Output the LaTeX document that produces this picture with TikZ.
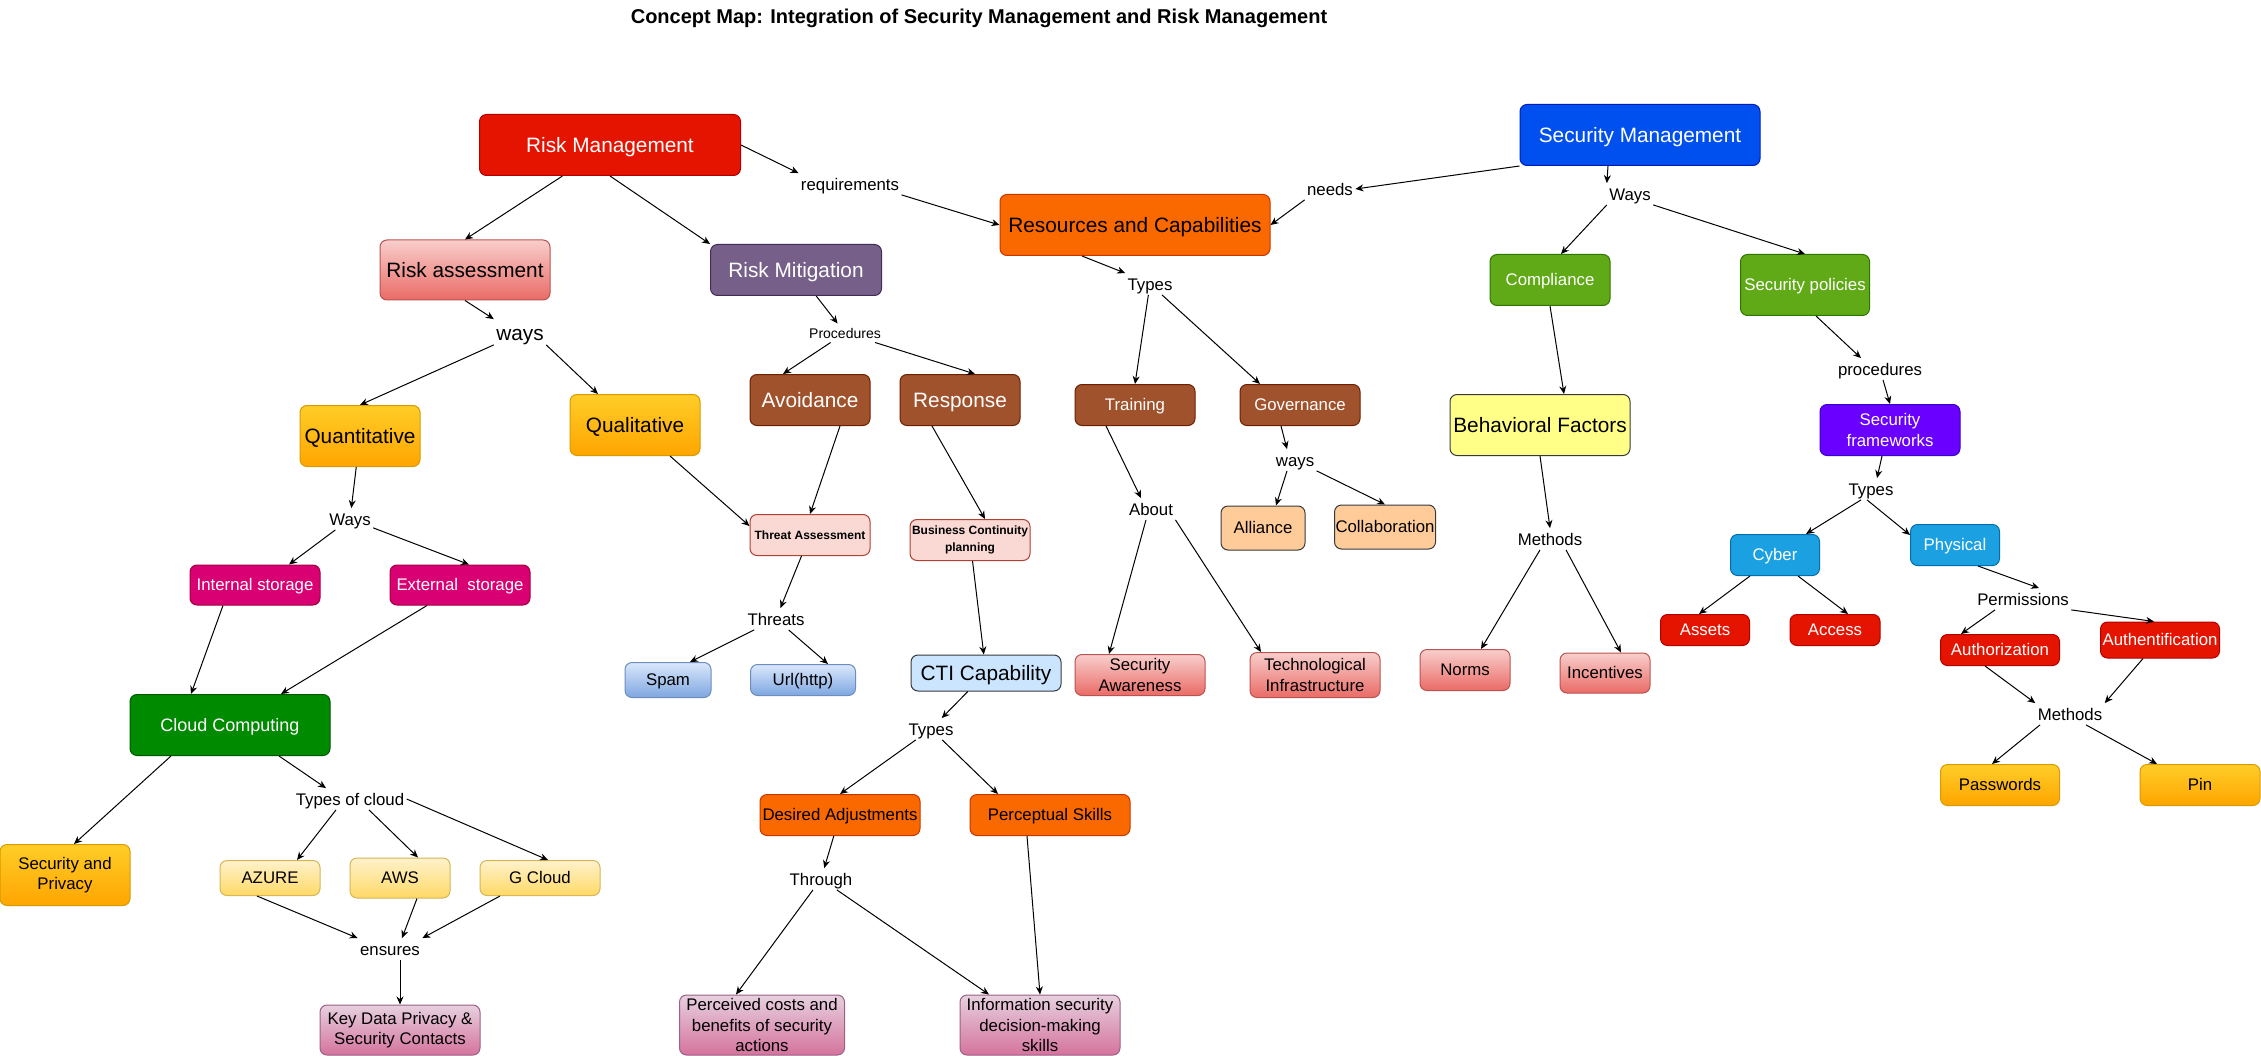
\documentclass[tikz,border=0pt]{standalone}
\usepackage{fontspec}
\setmainfont{Liberation Sans}
\usetikzlibrary{arrows.meta}

\definecolor{cRed}{HTML}{E51400}\definecolor{cRedLine}{HTML}{B20000}
\definecolor{cBlue}{HTML}{0050EF}\definecolor{cBlueLine}{HTML}{001DBC}
\definecolor{cOrange}{HTML}{FA6800}\definecolor{cOrangeLine}{HTML}{C73500}
\definecolor{cPurple}{HTML}{76608A}\definecolor{cPurpleLine}{HTML}{432D57}
\definecolor{cBrown}{HTML}{A0522D}\definecolor{cBrownLine}{HTML}{6D1F00}
\definecolor{cLime}{HTML}{60A917}\definecolor{cLimeLine}{HTML}{2D7600}
\definecolor{cGreen}{HTML}{008A00}\definecolor{cGreenLine}{HTML}{005700}
\definecolor{cMagenta}{HTML}{D80073}\definecolor{cMagentaLine}{HTML}{A50040}
\definecolor{cViolet}{HTML}{6A00FF}\definecolor{cVioletLine}{HTML}{3700CC}
\definecolor{cCyan}{HTML}{1BA1E2}\definecolor{cCyanLine}{HTML}{006EAF}
\definecolor{cPinkTop}{HTML}{F8CECC}\definecolor{cPinkBot}{HTML}{EA6B66}\definecolor{cPinkLine}{HTML}{B85450}
\definecolor{cAmberTop}{HTML}{FFCD28}\definecolor{cAmberBot}{HTML}{FFA500}\definecolor{cAmberLine}{HTML}{D79B00}
\definecolor{cCreamTop}{HTML}{FFF2CC}\definecolor{cCreamBot}{HTML}{FFD966}\definecolor{cCreamLine}{HTML}{D6B656}
\definecolor{cSkyTop}{HTML}{DAE8FC}\definecolor{cSkyBot}{HTML}{7EA6E0}\definecolor{cSkyLine}{HTML}{6C8EBF}
\definecolor{cMauveTop}{HTML}{E6D0DE}\definecolor{cMauveBot}{HTML}{D5739D}\definecolor{cMauveLine}{HTML}{996185}
\definecolor{cSalmon}{HTML}{FAD9D5}\definecolor{cSalmonLine}{HTML}{AE4132}
\definecolor{cIce}{HTML}{CCE5FF}\definecolor{cLemon}{HTML}{FFFF88}\definecolor{cPeach}{HTML}{FFCC99}
\definecolor{cGrayLine}{HTML}{36393D}

\newcommand{\szbig}{\fontsize{20.8}{24}\selectfont}
\newcommand{\szmid}{\fontsize{16.8}{20.5}\selectfont}
\newcommand{\szsmall}{\fontsize{14}{17}\selectfont}
\newcommand{\szbold}{\fontsize{12}{17}\selectfont\bfseries}
\newcommand{\sztitle}{\fontsize{20}{24}\selectfont\bfseries}

\begin{document}
\begin{tikzpicture}[x=1pt, y=-1pt, line width=1pt, >={Stealth[length=8pt,width=7pt]},
    box/.style={draw, rounded corners=7pt, align=center, inner sep=1pt, font=\szmid, text height=15.1pt, text depth=3.4pt},
    big/.style={font=\szbig, text height=18.7pt, text depth=4.2pt},
    multi/.style={text height=, text depth=},
    sz/.style 2 args={minimum width=#1pt, minimum height=#2pt},
    lbl/.style={font=\szmid, inner sep=2pt, text height=15.1pt, text depth=1.7pt},
    redbox/.style={fill=cRed, draw=cRedLine, text=white},
    bluebox/.style={fill=cBlue, draw=cBlueLine, text=white},
    orangebox/.style={fill=cOrange, draw=cOrangeLine},
    purplebox/.style={fill=cPurple, draw=cPurpleLine, text=white},
    brownbox/.style={fill=cBrown, draw=cBrownLine, text=white},
    limebox/.style={fill=cLime, draw=cLimeLine, text=white},
    greenbox/.style={fill=cGreen, draw=cGreenLine, text=white},
    magbox/.style={fill=cMagenta, draw=cMagentaLine, text=white},
    violetbox/.style={fill=cViolet, draw=cVioletLine, text=white},
    cyanbox/.style={fill=cCyan, draw=cCyanLine, text=white},
    salmonbox/.style={fill=cSalmon, draw=cSalmonLine},
    icebox/.style={fill=cIce, draw=cGrayLine},
    lemonbox/.style={fill=cLemon, draw=cGrayLine},
    peachbox/.style={fill=cPeach, draw=cGrayLine},
    pinkgrad/.style={top color=cPinkTop, bottom color=cPinkBot, draw=cPinkLine},
    ambergrad/.style={top color=cAmberTop, bottom color=cAmberBot, draw=cAmberLine},
    creamgrad/.style={top color=cCreamTop, bottom color=cCreamBot, draw=cCreamLine},
    skygrad/.style={top color=cSkyTop, bottom color=cSkyBot, draw=cSkyLine},
    mauvegrad/.style={top color=cMauveTop, bottom color=cMauveBot, draw=cMauveLine}]
    \path[use as bounding box, fill=white] (0,0) rectangle (2261,1056);

    \node[font=\sztitle] (title) at (979,18) {Concept Map: Integration of Security Management and Risk Management};

    \node[box, redbox, big, sz={261}{61}] (rm) at (610,145) {Risk Management};
    \node[box, pinkgrad, big, sz={170}{60}] (ra) at (465,270) {Risk assessment};
    \node[lbl, big, text depth=2.1pt] (ways1) at (520,332) {ways};
    \node[box, ambergrad, big, sz={120}{61}] (quant) at (360,436) {Quantitative};
    \node[box, ambergrad, big, sz={130}{61}] (qual) at (635,425) {Qualitative};
    \node[lbl] (ways2) at (350,519) {Ways};
    \node[box, magbox, sz={130}{40}] (intst) at (255,585) {Internal storage};
    \node[box, magbox, sz={140}{40}] (extst) at (460,585) {External~ storage};
    \node[box, greenbox, font=\fontsize{18}{22}\selectfont, text height=16.2pt, text depth=3.6pt, sz={200}{61}] (cloud) at (230,725) {Cloud Computing};
    \node[box, multi, ambergrad, sz={130}{61}] (secpriv) at (65,875) {Security and\\Privacy};
    \node[lbl] (tcloud) at (350,799) {Types of cloud};
    \node[box, creamgrad, sz={100}{35}] (azure) at (270,878) {AZURE};
    \node[box, creamgrad, sz={100}{40}] (aws) at (400,878) {AWS};
    \node[box, creamgrad, sz={120}{35}] (gcloud) at (540,878) {G Cloud};
    \node[lbl] (ensures) at (390,949) {ensures};
    \node[box, multi, mauvegrad, sz={160}{50}] (keydata) at (400,1030) {Key Data Privacy \&\\Security Contacts};

    \node[box, purplebox, big, sz={171}{51}] (rmit) at (796,270) {Risk Mitigation};
    \node[lbl, font=\szsmall, text height=12.6pt, text depth=1.4pt] (proc) at (845,333) {Procedures};
    \node[box, brownbox, big, sz={120}{51}] (avoid) at (810,400) {Avoidance};
    \node[box, brownbox, big, sz={120}{51}] (resp) at (960,400) {Response};
    \node[box, salmonbox, font=\szbold, text height=10.8pt, text depth=2.4pt, sz={120}{41}] (threat) at (810,535) {Threat Assessment};
    \node[box, multi, salmonbox, font=\szbold, sz={120}{41}] (bcp) at (970,540) {Business Continuity\\planning};
    \node[lbl] (threats) at (776,619) {Threats};
    \node[box, skygrad, sz={86}{35}] (spam) at (668,680) {Spam};
    \node[box, skygrad, sz={105}{31}] (url) at (803,680) {Url(http)};
    \node[box, icebox, big, sz={150}{36}] (cti) at (986,673) {CTI Capability};
    \node[lbl] (types2) at (931,729) {Types};
    \node[box, orangebox, sz={160}{41}] (desired) at (840,815) {Desired Adjustments};
    \node[box, orangebox, sz={160}{41}] (percep) at (1050,815) {Perceptual Skills};
    \node[lbl] (through) at (821,879) {Through};
    \node[box, multi, mauvegrad, sz={165}{60}] (perc) at (762,1025) {Perceived costs and\\benefits of security\\actions};
    \node[box, multi, mauvegrad, sz={160}{60}] (info) at (1040,1025) {Information security\\decision-making\\skills};

    \node[lbl] (req) at (850,184) {requirements};
    \node[box, orangebox, big, sz={270}{61}] (rc) at (1135,225) {Resources and Capabilities};
    \node[lbl] (needs) at (1330,189) {needs};
    \node[lbl] (types1) at (1150,284) {Types};
    \node[box, brownbox, sz={120}{41}] (train) at (1135,405) {Training};
    \node[box, brownbox, sz={120}{41}] (gov) at (1300,405) {Governance};
    \node[lbl] (about) at (1151,509) {About};
    \node[lbl] (ways4) at (1295,460) {ways};
    \node[box, peachbox, sz={84}{44}] (alli) at (1263,528) {Alliance};
    \node[box, peachbox, sz={100}{44}] (collab) at (1385,527) {Collaboration};
    \node[box, multi, pinkgrad, sz={130}{41}] (aware) at (1140,675) {Security\\Awareness};
    \node[box, multi, pinkgrad, sz={130}{45}] (techinf) at (1315,675) {Technological\\Infrastructure};

    \node[box, bluebox, big, sz={240}{61}] (sm) at (1640,135) {Security Management};
    \node[lbl] (ways3) at (1630,194) {Ways};
    \node[box, limebox, sz={120}{51}] (comp) at (1550,280) {Compliance};
    \node[box, limebox, sz={129}{61}] (secpol) at (1805,285) {Security policies};
    \node[box, lemonbox, big, sz={180}{61}] (behav) at (1540,425) {Behavioral Factors};
    \node[lbl] (meth1) at (1550,539) {Methods};
    \node[box, pinkgrad, sz={90}{41}] (norms) at (1465,670) {Norms};
    \node[box, pinkgrad, sz={90}{40}] (incent) at (1605,673) {Incentives};
    \node[lbl] (procs) at (1880,369) {procedures};
    \node[box, multi, violetbox, sz={140}{51}] (sf) at (1890,430) {Security\\frameworks};
    \node[lbl] (types3) at (1871,489) {Types};
    \node[box, cyanbox, sz={89}{41}] (cyber) at (1775,555) {Cyber};
    \node[box, cyanbox, sz={89}{41}] (phys) at (1955,545) {Physical};
    \node[box, redbox, sz={89}{31}] (assets) at (1705,630) {Assets};
    \node[box, redbox, sz={90}{31}] (access) at (1835,630) {Access};
    \node[lbl] (perms) at (2023,599) {Permissions};
    \node[box, redbox, sz={119}{31}] (authz) at (2000,650) {Authorization};
    \node[box, redbox, sz={119}{36}] (authn) at (2160,640) {Authentification};
    \node[lbl] (meth2) at (2070,714) {Methods};
    \node[box, ambergrad, sz={119}{41}] (pw) at (2000,785) {Passwords};
    \node[box, ambergrad, sz={120}{41}] (pin) at (2200,785) {Pin};

    \draw[->] (rm) -- (ra.north);
    \draw[->] (rm.south) -- (rmit.north west);
    \draw[->] (rm.east) -- (req.north west);
    \draw[->] (req.south east) -- (rc.west);
    \draw[->] (sm.south west) -- (needs.east);
    \draw[->] (needs.south west) -- (rc.east);
    \draw[->] (ra.south) -- (ways1.north west);
    \draw[->] (ways1.south west) -- (quant.north);
    \draw[->] (ways1.south east) -- ([xshift=-37pt]qual.north);
    \draw[->] (quant) -- (ways2);
    \draw[->] (ways2) -- ([xshift=34pt]intst.north);
    \draw[->] (ways2) -- ([xshift=9pt]extst.north);
    \draw[->] ([xshift=-32pt]intst.south) -- ([xshift=-39pt]cloud.north);
    \draw[->] ([xshift=-33pt]extst.south) -- ([xshift=51pt]cloud.north);
    \draw[->] ([xshift=-59pt]cloud.south) -- ([xshift=9pt]secpriv.north);
    \draw[->] ([xshift=49pt]cloud.south) -- ([xshift=-24pt]tcloud.north);
    \draw[->] ([xshift=-14pt]tcloud.south) -- ([xshift=27pt]azure.north);
    \draw[->] ([xshift=19pt]tcloud.south) -- ([xshift=18pt]aws.north);
    \draw[->] (tcloud.east) -- ([xshift=8pt]gcloud.north);
    \draw[->] ([xshift=-13pt]azure.south) -- (ensures.north west);
    \draw[->] ([xshift=17pt]aws.south) -- ([xshift=12pt]ensures.north);
    \draw[->] ([xshift=-40pt]gcloud.south) -- (ensures.north east);
    \draw[->] ([xshift=10pt]ensures.south) -- (keydata.north);

    \draw[->] (rmit) -- (proc);
    \draw[->] (proc) -- ([xshift=-27pt]avoid.north);
    \draw[->] (proc) -- ([xshift=15pt]resp.north);
    \draw[->] ([xshift=30pt]avoid.south) -- (threat.north);
    \draw[->] ([xshift=35pt]qual.south) -- ([yshift=9pt]threat.west);
    \draw[->] (threat) -- (threats);
    \draw[->] (threats) -- ([xshift=22pt]spam.north);
    \draw[->] (threats) -- ([xshift=25pt]url.north);
    \draw[->] ([xshift=-28pt]resp.south) -- ([xshift=15pt]bcp.north);
    \draw[->] (bcp) -- (cti);
    \draw[->] (cti) -- (types2);
    \draw[->] (types2) -- (desired.north);
    \draw[->] (types2) -- ([xshift=-52pt]percep.north);
    \draw[->] (desired) -- (through);
    \draw[->] (through) -- ([xshift=-26pt]perc.north);
    \draw[->] (through) -- ([xshift=-51pt]info.north);
    \draw[->] ([xshift=-23pt]percep.south) -- (info.north);

    \draw[->] ([xshift=-53pt]rc.south) -- (types1.north west);
    \draw[->] (types1) -- (train.north);
    \draw[->] (types1) -- ([xshift=-40pt]gov.north);
    \draw[->] ([xshift=-29pt]train.south) -- ([xshift=-10pt]about.north);
    \draw[->] ([xshift=-5pt]about.south) -- ([xshift=-31pt]aware.north);
    \draw[->] (about.south east) -- ([xshift=-54pt]techinf.north);
    \draw[->] ([xshift=-19pt]gov.south) -- ([xshift=-8pt]ways4.north);
    \draw[->] ([xshift=-8pt]ways4.south) -- ([xshift=13pt]alli.north);
    \draw[->] (ways4.south east) -- (collab.north);

    \draw[->] ([xshift=-32pt]sm.south) -- (ways3.north west);
    \draw[->] (ways3.south west) -- ([xshift=11pt]comp.north);
    \draw[->] (ways3.south east) -- (secpol.north);
    \draw[->] (comp.south) -- ([xshift=24pt]behav.north);
    \draw[->] ([xshift=11pt]secpol.south) -- ([xshift=-19pt]procs.north);
    \draw[->] ([xshift=3pt]procs.south) -- (sf.north);
    \draw[->] (behav.south) -- (meth1.north);
    \draw[->] ([xshift=-10pt]meth1.south) -- ([xshift=16pt]norms.north);
    \draw[->] ([xshift=16pt]meth1.south) -- ([xshift=16pt]incent.north);
    \draw[->] ([xshift=-8pt]sf.south) -- ([xshift=6pt]types3.north);
    \draw[->] ([xshift=-10pt]types3.south) -- ([xshift=31pt]cyber.north);
    \draw[->] ([xshift=-4pt]types3.south) -- ([yshift=10pt]phys.west);
    \draw[->] ([xshift=-25pt]cyber.south) -- ([xshift=-6pt]assets.north);
    \draw[->] ([xshift=23pt]cyber.south) -- ([xshift=13pt]access.north);
    \draw[->] ([xshift=23pt]phys.south) -- ([xshift=16pt]perms.north);
    \draw[->] ([xshift=-28pt]perms.south) -- ([xshift=-39pt]authz.north);
    \draw[->] (perms.south east) -- ([xshift=-6pt]authn.north);
    \draw[->] ([xshift=-15pt]authz.south) -- (meth2.north west);
    \draw[->] ([xshift=-17pt]authn.south) -- (meth2.north east);
    \draw[->] ([xshift=-30pt]meth2.south) -- ([xshift=-8pt]pw.north);
    \draw[->] ([xshift=16pt]meth2.south) -- ([xshift=-43pt]pin.north);
\end{tikzpicture}
\end{document}
